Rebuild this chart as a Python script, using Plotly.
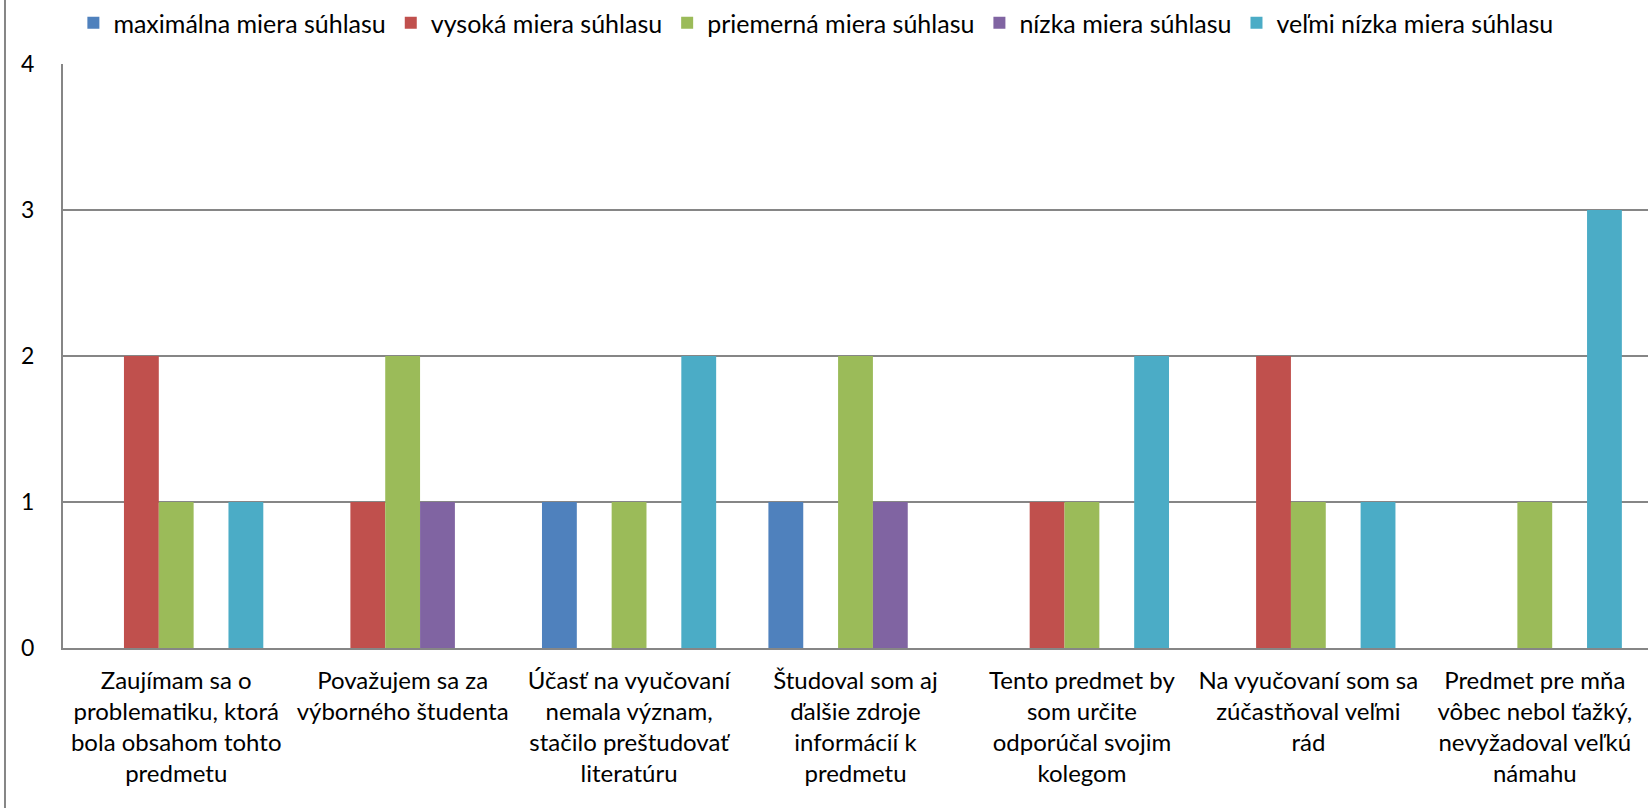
import plotly.graph_objects as go

categories = [
    "Zaujímam sa o<br>problematiku, ktorá<br>bola obsahom tohto<br>predmetu",
    "Považujem sa za<br>výborného študenta",
    "Účasť na vyučovaní<br>nemala význam,<br>stačilo preštudovať<br>literatúru",
    "Študoval som aj<br>ďalšie zdroje<br>informácií k<br>predmetu",
    "Tento predmet by<br>som určite<br>odporúčal svojim<br>kolegom",
    "Na vyučovaní som sa<br>zúčastňoval veľmi<br>rád",
    "Predmet pre mňa<br>vôbec nebol ťažký,<br>nevyžadoval veľkú<br>námahu",
]

series_names = [
    "maximálna miera súhlasu",
    "vysoká miera súhlasu",
    "priemerná miera súhlasu",
    "nízka miera súhlasu",
    "veľmi nízka miera súhlasu",
]

maximalna = [0, 0, 1, 1, 0, 0, 0]
vysoka = [2, 1, 0, 0, 1, 2, 0]
priemerna = [1, 2, 1, 2, 1, 1, 1]
nizka = [0, 1, 0, 1, 0, 0, 0]
velmi_nizka = [1, 0, 2, 0, 2, 1, 3]

y_ticks = [0, 1, 2, 3, 4]

colors = ["#4F81BD", "#C0504D", "#9BBB59", "#8064A2", "#4BACC6"]

fig = go.Figure()
for name, vals, col in zip(series_names, [maximalna, vysoka, priemerna, nizka, velmi_nizka], colors):
    fig.add_trace(go.Bar(name=name, x=categories, y=vals, marker=dict(color=col, line=dict(width=0))))

FONT = "Lato"
fig.update_layout(
    width=1651, height=808,
    paper_bgcolor="white", plot_bgcolor="white",
    barmode="group", bargap=1.5 / 6.5, bargroupgap=0,
    margin=dict(l=63, r=3, t=60, b=160),
    font=dict(family=FONT, size=24, color="#000000"),
    legend=dict(orientation="h", x=0.475, xanchor="center", y=1 - 23 / 808, yanchor="middle",
                yref="container", font=dict(size=25), traceorder="normal",
                itemwidth=30),
    xaxis=dict(showgrid=False, showline=True, linecolor="#868686", linewidth=2,
               ticks="", tickfont=dict(size=24), ticklabelstandoff=10, tickangle=0),
    yaxis=dict(range=[0, 4], tickvals=y_ticks, showgrid=True, gridcolor="#868686", gridwidth=2,
               showline=True, linecolor="#868686", linewidth=2, zeroline=False,
               ticks="", tickfont=dict(size=23), ticklabelstandoff=22),
)

fig.add_shape(type="line", xref="paper", yref="paper", x0=-0.0366, x1=-0.0366, y0=-0.3, y1=1.12,
              line=dict(color="#868686", width=2))

fig.write_html("out.html", config={"displayModeBar": False},
               post_script="document.body.style.margin='0';document.body.style.overflow='hidden';")
